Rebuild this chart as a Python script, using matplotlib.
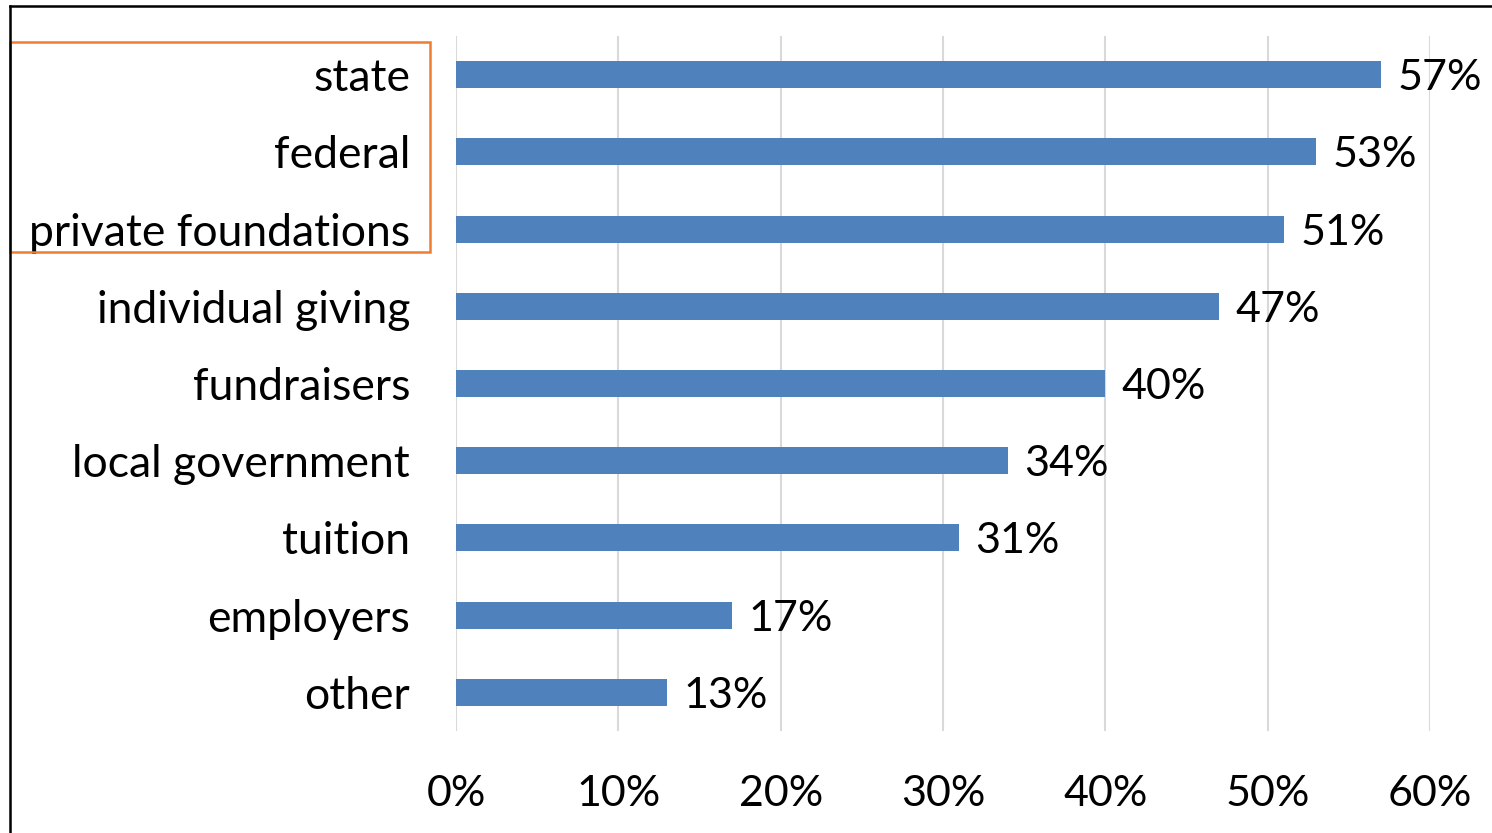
import matplotlib.pyplot as plt
from matplotlib.patches import Rectangle
from matplotlib.lines import Line2D

categories = ["state", "federal", "private foundations", "individual giving",
              "fundraisers", "local government", "tuition", "employers", "other"]
values = [57, 53, 51, 47, 40, 34, 31, 17, 13]
ticks = [0, 10, 20, 30, 40, 50, 60]
tick_labels = ["0%", "10%", "20%", "30%", "40%", "50%", "60%"]

plt.rcParams['font.family'] = ['Lato', 'DejaVu Sans']

W, H = 1492, 833
fig = plt.figure(figsize=(W / 100, H / 100), dpi=100)
ax = fig.add_axes([456 / W, (H - 731) / H, (1430 - 456) / W, (731 - 36) / H])

y = list(range(len(categories)))
ax.barh(y, values, height=0.35, color='#4F81BD', zorder=3)
for yi, v in zip(y, values):
    ax.text(v + 1.0, yi, f"{v}%", va='center_baseline', ha='left', fontsize=31, color='black')

ax.set_xlim(0, 60)
ax.set_ylim(len(categories) - 0.5, -0.5)
ax.set_yticks(y)
ax.set_yticklabels(categories, fontsize=32, va='center_baseline')
ax.set_xticks(ticks)
ax.set_xticklabels(tick_labels, fontsize=31)
ax.tick_params(axis='both', length=0)
ax.tick_params(axis='y', pad=33)
ax.tick_params(axis='x', pad=32)
ax.grid(axis='x', color='#D9D9D9', linewidth=1.5, zorder=0)
for s in ax.spines.values():
    s.set_visible(False)

# outer border (left and top only visible)
fig.add_artist(Line2D([10 / W, 10 / W], [0, (H - 6) / H], color='black', linewidth=1.8))
fig.add_artist(Line2D([10 / W, 1], [(H - 6) / H, (H - 6) / H], color='black', linewidth=1.8))

# orange highlight box around the top three labels
fig.add_artist(Rectangle((10 / W, (H - 252) / H), 420 / W, 210 / H,
                         fill=False, edgecolor='#ED7D31', linewidth=1.8))

fig.savefig("out.png", dpi=100)
